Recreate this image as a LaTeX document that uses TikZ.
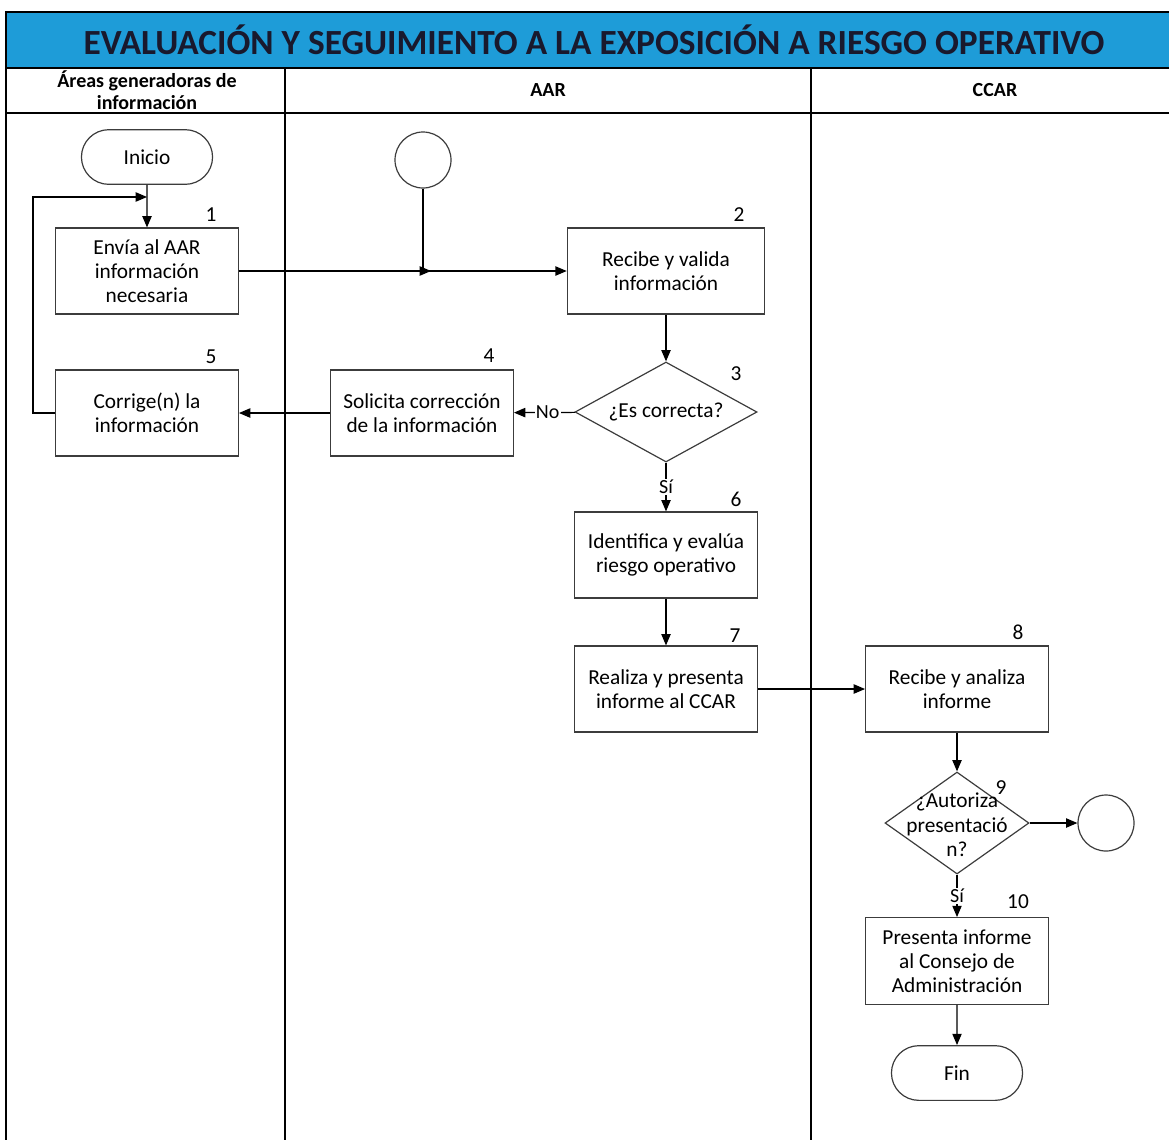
\documentclass[tikz,border=0pt]{standalone}
\usepackage{fontspec}
\setmainfont{Carlito}
\usetikzlibrary{shapes.geometric,shapes.misc,arrows.meta}

\definecolor{titleblue}{RGB}{30,156,216}
\definecolor{titletext}{RGB}{25,25,45}
\definecolor{boxline}{RGB}{60,60,60}

\begin{document}
\begin{tikzpicture}[x=0.75pt,y=-0.75pt,
    >={Triangle[length=8.5pt,width=7pt]},
    line width=0.9pt,
    proc/.style={rectangle,draw=boxline,align=center,minimum width=137pt,minimum height=64.5pt,font=\fontsize{16}{18}\selectfont},
    dec/.style={diamond,draw=boxline,align=center,inner sep=0pt,font=\fontsize{16}{18}\selectfont},
    term/.style={rounded rectangle,draw=boxline,minimum width=105pt,minimum height=41pt,font=\fontsize{16}{18}\selectfont},
    conn/.style={circle,draw=boxline,minimum size=42pt,inner sep=0pt},
    num/.style={font=\fontsize{16}{18}\selectfont},
    head/.style={align=center,font=\fontsize{15}{16.5}\selectfont\bfseries},
    lane/.style={line width=1.4pt},
    tag/.style={fill=white,inner sep=1pt,font=\fontsize{15}{16}\selectfont}]
    \useasboundingbox (0,0) rectangle (1169,1140);

    % lanes
    \fill[titleblue] (6,12) rectangle (1169,68);
    \draw[lane] (1169,12) -- (6,12) -- (6,1140);
    \draw[lane] (6,68) -- (1169,68);
    \draw[lane] (6,113) -- (1169,113);
    \draw[lane] (285,68) -- (285,1140);
    \draw[lane] (811,68) -- (811,1140);
    \node (title) [text=titletext] at (594,40) {\fontsize{26.5}{30}\selectfont\bfseries EVALUACIÓN Y SEGUIMIENTO A LA EXPOSICIÓN A RIESGO OPERATIVO};
    \node (hd1) [head] at (147,90) {Áreas generadoras de\\información};
    \node (hd2) [head] at (548,90) {AAR};
    \node (hd3) [head] at (995,90) {CCAR};

    % steps
    \node (ini) [term] at (147,157) {Inicio};
    \node (c1) [conn] at (423,160) {};
    \node (b1) [proc] at (147,271) {Envía al AAR\\información\\necesaria};
    \node (b2) [proc,minimum width=148pt] at (666,271) {Recibe y valida\\información};
    \node (d3) [dec,aspect=1.8,minimum width=136.5pt,minimum height=75pt] at (666,412) {¿Es correcta?};
    \node (b4) [proc] at (422,413) {Solicita corrección\\de la información};
    \node (b5) [proc] at (147,413) {Corrige(n) la\\información};
    \node (b6) [proc] at (666,555) {Identifica y evalúa\\riesgo operativo};
    \node (b7) [proc] at (666,689) {Realiza y presenta\\informe al CCAR};
    \node (b8) [proc] at (957,689) {Recibe y analiza\\informe};
    \node (d9) [dec,minimum width=108pt,minimum height=76.5pt] at (957,823) {};
    \node (d9t) [align=center,font=\fontsize{16}{18.4}\selectfont] at (957,825) {¿Autoriza\\presentació\\n?};
    \node (c2) [conn] at (1106,823) {};
    \node (b10) [proc,minimum height=65pt] at (957,961) {Presenta informe\\al Consejo de\\Administración};
    \node (fin) [term] at (957,1073) {Fin};

    % numbers
    \node (n1) [num] at (211,215) {1};
    \node (n2) [num] at (739,215) {2};
    \node (n3) [num] at (736,374) {3};
    \node (n4) [num] at (489,356) {4};
    \node (n5) [num] at (211,357) {5};
    \node (n6) [num] at (736,499) {6};
    \node (n7) [num] at (735,636) {7};
    \node (n8) [num] at (1018,632) {8};
    \node (n9) [num] at (1001,788) {9};
    \node (n10) [num] at (1018,902) {10};

    \coordinate (loop) at (33,197);
    \coordinate (j1) at (147,197);
    \coordinate (j2) at (431,271);

    % flow
    \draw (ini) edge [->] (b1);
    \draw (b1) edge [->] (b2);
    \draw[->] (c1.south) |- (j2);
    \draw (b2) edge [->] (d3);
    \draw (d3) edge [->] node[tag,pos=0.45] {No} (b4);
    \draw (b4) edge [->] (b5);
    \draw[->] (b5.west) -| (loop) -- (j1);
    \draw (d3) edge [->] node[tag] {Sí} (b6);
    \draw (b6) edge [->] (b7);
    \draw (b7) edge [->] (b8);
    \draw (b8) edge [->] (d9);
    \draw (d9) edge [->] (c2);
    \draw (d9) edge [->] node[tag] {Sí} (b10);
    \draw (b10) edge [->] (fin);
\end{tikzpicture}
\end{document}
